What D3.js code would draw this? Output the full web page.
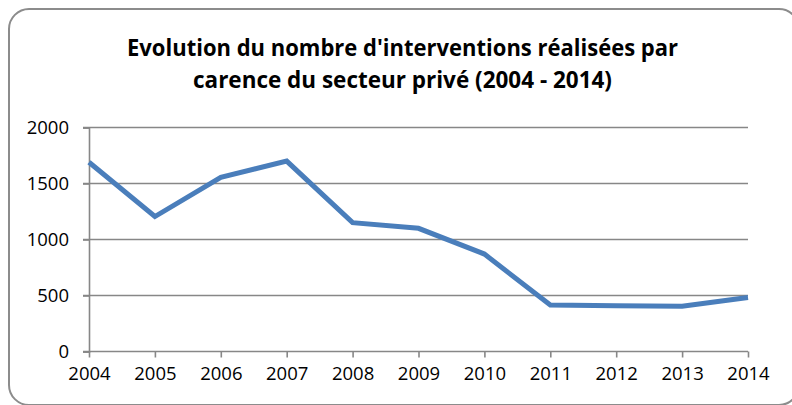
<!DOCTYPE html>
<html>
<head>
<meta charset="utf-8">
<script src="https://cdn.jsdelivr.net/npm/d3@7"></script>
<style>
  html, body { margin: 0; padding: 0; background: #fff; }
  svg { display: block; }
</style>
</head>
<body>
<svg id="chart" width="792" height="405"></svg>
<script>
// Nombre d'interventions réalisées par carence du secteur privé
const years = [2004, 2005, 2006, 2007, 2008, 2009, 2010, 2011, 2012, 2013, 2014];
const interventions = [1690, 1205, 1555, 1700, 1150, 1100, 870, 415, 408, 405, 482];
const yTicks = [0, 500, 1000, 1500, 2000];
const titleLines = [
  "Evolution du nombre d'interventions réalisées par",
  "carence du secteur privé (2004 - 2014)"
];

const svg = d3.select("#chart");
const font = "'Open Sans', 'Liberation Sans', sans-serif";

// Cadre arrondi du graphique
svg.append("rect")
  .attr("x", 9).attr("y", 9)
  .attr("width", 790).attr("height", 396)
  .attr("rx", 20).attr("ry", 20)
  .attr("fill", "#fff")
  .attr("stroke", "#8c8c8c")
  .attr("stroke-width", 2);

// Titre sur deux lignes, centré sur le cadre
const titleWidths = [551, 419];
svg.append("g").selectAll("text")
  .data(titleLines)
  .join("text")
  .attr("x", 402.5)
  .attr("y", (d, i) => 56 + i * 32)
  .attr("text-anchor", "middle")
  .attr("font-family", font)
  .attr("font-weight", "bold")
  .attr("font-size", 22.5)
  .attr("fill", "#000")
  .attr("textLength", (d, i) => titleWidths[i])
  .attr("lengthAdjust", "spacingAndGlyphs")
  .text(d => d);

const x = d3.scalePoint().domain(years).range([89, 748]);
const y = d3.scaleLinear().domain([0, 2000]).range([351.5, 127.5]);

// Quadrillage horizontal
svg.append("g")
  .selectAll("line")
  .data(yTicks.filter(v => v > 0))
  .join("line")
  .attr("x1", 83).attr("x2", 748)
  .attr("y1", d => y(d)).attr("y2", d => y(d))
  .attr("stroke", "#878787")
  .attr("stroke-width", 1.6);

// Axe des ordonnées
const yAxis = svg.append("g")
  .attr("transform", "translate(89,0)")
  .call(d3.axisLeft(y).tickValues(yTicks).tickSize(6).tickPadding(14).tickFormat(d3.format("d")));
yAxis.select(".domain").attr("stroke", "#878787").attr("stroke-width", 1.6);
yAxis.selectAll(".tick line").attr("stroke", "#878787").attr("stroke-width", 1.6);
yAxis.selectAll("text")
  .attr("font-family", font).attr("font-size", 18.5).attr("fill", "#000");

// Axe des abscisses
const xAxis = svg.append("g")
  .attr("transform", `translate(0,${y(0)})`)
  .call(d3.axisBottom(x).tickSize(6).tickPadding(9).tickFormat(d3.format("d")));
xAxis.select(".domain")
  .attr("d", `M83,0H748`)
  .attr("stroke", "#878787").attr("stroke-width", 1.6);
xAxis.selectAll(".tick line").attr("stroke", "#878787").attr("stroke-width", 1.6);
xAxis.selectAll("text")
  .attr("font-family", font).attr("font-size", 18.5).attr("fill", "#000");

// Courbe
const line = d3.line()
  .x((d, i) => x(years[i]))
  .y(d => y(d));
svg.append("path")
  .datum(interventions)
  .attr("d", line)
  .attr("fill", "none")
  .attr("stroke", "#4a7ebb")
  .attr("stroke-width", 5)
  .attr("stroke-linejoin", "miter");
</script>
</body>
</html>
